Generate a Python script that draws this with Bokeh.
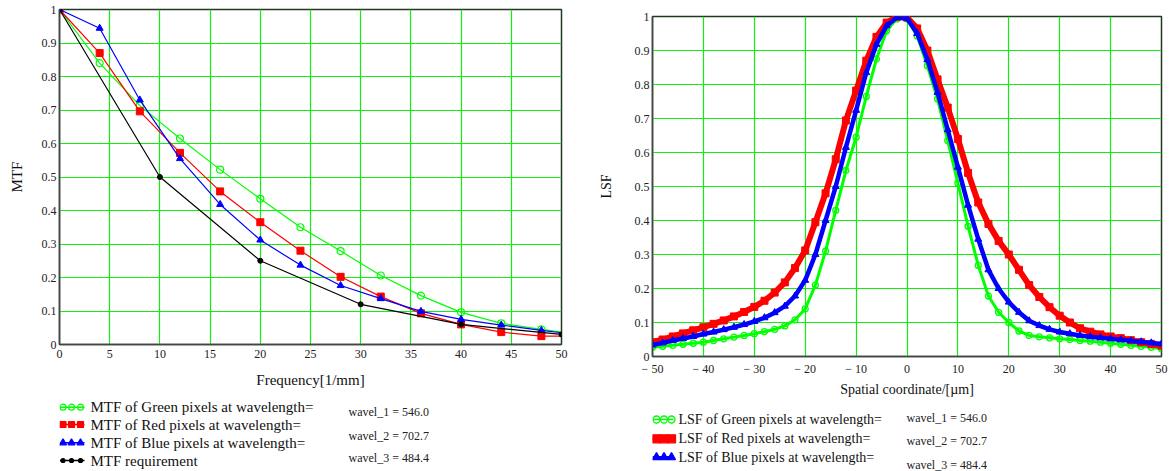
from bokeh.plotting import figure
from bokeh.layouts import row, column
from bokeh.models import Range1d, FixedTicker, NumeralTickFormatter
from bokeh.embed import file_html
from bokeh.resources import INLINE
from bokeh.core.properties import value

FONT = "Liberation Serif"
GREEN = "#00ff00"
RED = "#ff0000"
BLUE = "#0000ff"
BLACK = "#000000"
GRID = "#11ee11"

# ---------------- MTF data ----------------
freq = [0, 4, 8, 12, 16, 20, 24, 28, 32, 36, 40, 44, 48, 50]
mtf_green = [1.0, 0.840, 0.713, 0.615, 0.522, 0.435, 0.350, 0.279, 0.206, 0.146, 0.096, 0.063, 0.045, 0.037]
mtf_red = [1.0, 0.870, 0.696, 0.572, 0.457, 0.365, 0.280, 0.202, 0.143, 0.093, 0.060, 0.037, 0.025, 0.025]
mtf_blue = [1.0, 0.944, 0.730, 0.555, 0.418, 0.312, 0.237, 0.176, 0.137, 0.099, 0.075, 0.058, 0.042, 0.035]
req_freq = [0, 10, 20, 30, 40, 50]
mtf_req = [1.0, 0.50, 0.25, 0.12, 0.06, 0.03]

mtf_xticks = [0, 5, 10, 15, 20, 25, 30, 35, 40, 45, 50]
unit_ticks = [0, 0.1, 0.2, 0.3, 0.4, 0.5, 0.6, 0.7, 0.8, 0.9, 1.0]

# ---------------- LSF data ----------------
lsf_x = [-50, -48, -46, -44, -42, -40, -38, -36, -34, -32, -30, -28, -26, -24, -22, -20,
         -18, -16, -14, -12, -10, -8, -6, -4, -2, 0, 2, 4, 6, 8, 10, 12, 14, 16, 18, 20,
         22, 24, 26, 28, 30, 32, 34, 36, 38, 40, 42, 44, 46, 48, 50]
lsf_red = [0.042, 0.050, 0.059, 0.068, 0.077, 0.086, 0.096, 0.106, 0.118, 0.131, 0.146, 0.164,
           0.188, 0.218, 0.260, 0.312, 0.395, 0.480, 0.580, 0.694, 0.782, 0.870, 0.940, 0.982,
           0.999, 0.997, 0.965, 0.900, 0.815, 0.732, 0.640, 0.540, 0.453, 0.390, 0.340, 0.300,
           0.255, 0.210, 0.175, 0.145, 0.120, 0.100, 0.083, 0.073, 0.065, 0.059, 0.054, 0.048,
           0.042, 0.037, 0.032]
lsf_blue = [0.034, 0.040, 0.047, 0.053, 0.059, 0.066, 0.072, 0.079, 0.086, 0.094, 0.103, 0.114,
            0.129, 0.148, 0.178, 0.224, 0.300, 0.400, 0.500, 0.615, 0.724, 0.835, 0.918, 0.973,
            0.997, 0.995, 0.950, 0.873, 0.777, 0.667, 0.557, 0.445, 0.345, 0.255, 0.200, 0.160,
            0.130, 0.105, 0.091, 0.080, 0.072, 0.067, 0.062, 0.058, 0.055, 0.052, 0.049, 0.046,
            0.043, 0.040, 0.037]
lsf_green = [0.027, 0.030, 0.033, 0.036, 0.039, 0.042, 0.047, 0.052, 0.057, 0.062, 0.067, 0.073,
             0.080, 0.090, 0.108, 0.140, 0.210, 0.310, 0.430, 0.547, 0.645, 0.765, 0.875, 0.958,
             0.993, 0.993, 0.943, 0.855, 0.757, 0.635, 0.510, 0.383, 0.268, 0.178, 0.130, 0.100,
             0.075, 0.062, 0.058, 0.055, 0.052, 0.050, 0.047, 0.045, 0.042, 0.039, 0.036, 0.033,
             0.030, 0.027, 0.023]

lsf_xticks = [-50, -40, -30, -20, -10, 0, 10, 20, 30, 40, 50]
lsf_xlabels = ["\u2212 50", "\u2212 40", "\u2212 30", "\u2212 20", "\u2212 10", "0",
               "10", "20", "30", "40", "50"]

mtf_legend = ["MTF of Green pixels at wavelength=", "MTF of Red pixels at wavelength=",
              "MTF of Blue pixels at wavelength=", "MTF requirement"]
lsf_legend = ["LSF of Green pixels at wavelength=", "LSF of Red pixels at wavelength=",
              "LSF of Blue pixels at wavelength="]
wavel_text = ["wavel_1 = 546.0", "wavel_2 = 702.7", "wavel_3 = 484.4"]

MAIN_H = 400
LEG_H = 71
W1 = 594
W2 = 1171 - W1


def style_main(p, xticks, xstand, ystand, label_size):
    p.background_fill_color = "white"
    p.border_fill_color = "white"
    p.outline_line_color = "#1d3b1d"
    p.outline_line_width = 1.5
    for ax in (p.xaxis[0], p.yaxis[0]):
        ax.axis_line_color = "#444444"
        ax.axis_line_width = 1.5
        ax.major_tick_in = 0
        ax.major_tick_out = 0
        ax.minor_tick_in = 0
        ax.minor_tick_out = 0
        ax.major_label_text_font = FONT
        ax.major_label_text_font_size = "12px"
        ax.major_label_text_color = "#222222"
        ax.axis_label_text_font = FONT
        ax.axis_label_text_font_size = label_size
        ax.axis_label_text_font_style = "normal"
        ax.axis_label_text_color = "#111111"
    p.xaxis.ticker = FixedTicker(ticks=xticks)
    p.yaxis.ticker = FixedTicker(ticks=unit_ticks)
    p.yaxis.formatter = NumeralTickFormatter(format="0.[0]")
    p.xaxis.major_label_standoff = 5
    p.yaxis.major_label_standoff = 3
    p.xaxis.axis_label_standoff = xstand
    p.yaxis.axis_label_standoff = ystand
    p.xgrid.grid_line_color = GRID
    p.ygrid.grid_line_color = GRID
    p.xgrid.grid_line_width = 1.2
    p.ygrid.grid_line_width = 1.2


# ---------------- Left: MTF ----------------
p1 = figure(width=W1, height=MAIN_H, x_range=Range1d(0, 50), y_range=Range1d(0, 1),
            output_backend="svg", toolbar_location=None,
            min_border_left=59, min_border_right=W1 - 561, min_border_top=9,
            min_border_bottom=MAIN_H - 344,
            x_axis_label="Frequency[1/mm]", y_axis_label="MTF")
style_main(p1, mtf_xticks, 11, 14, "15px")

p1.line(freq, mtf_green, color=GREEN, line_width=1.2)
p1.scatter(freq[:-1], mtf_green[:-1], marker="circle", size=7, fill_color=None,
           line_color=GREEN, line_width=1.2)
p1.line(freq, mtf_red, color=RED, line_width=1.2)
p1.scatter(freq[:-1], mtf_red[:-1], marker="square", size=7, color=RED)
p1.line(freq, mtf_blue, color=BLUE, line_width=1.2)
p1.scatter(freq[:-1], mtf_blue[:-1], marker="triangle", size=7, color=BLUE)
p1.line(req_freq, mtf_req, color=BLACK, line_width=1.2)
p1.scatter(req_freq, mtf_req, marker="circle", size=5, color=BLACK)

# ---------------- Right: LSF ----------------
p2 = figure(width=W2, height=MAIN_H, x_range=Range1d(-50, 50), y_range=Range1d(0, 1),
            output_backend="svg", toolbar_location=None,
            min_border_left=652 - W1, min_border_right=10, min_border_top=16,
            min_border_bottom=MAIN_H - 356,
            x_axis_label="Spatial coordinate/[\u00b5m]", y_axis_label="LSF")
style_main(p2, lsf_xticks, 3, 18, "14px")
p2.xaxis.major_label_overrides = dict(zip(lsf_xticks, lsf_xlabels))

p2.line(lsf_x, lsf_green, color=GREEN, line_width=3)
p2.scatter(lsf_x, lsf_green, marker="circle", size=6, fill_color=None,
           line_color=GREEN, line_width=1.3)
p2.line(lsf_x, lsf_red, color=RED, line_width=6)
p2.scatter(lsf_x, lsf_red, marker="square", size=7, color=RED)
p2.line(lsf_x, lsf_blue, color=BLUE, line_width=4.5)
p2.scatter(lsf_x, lsf_blue, marker="triangle", size=7, color=BLUE)


# ---------------- Legends ----------------
# Bokeh aligns the frames of stacked plots, so each legend figure gets the same side
# borders as the plot above it; its ranges are set so that data units equal page pixels
# (x measured from the page's left edge, y measured upward from the page's bottom edge).
def legend_fig(width, left, right, x0):
    q = figure(width=width, height=LEG_H,
               x_range=Range1d(x0 + left, x0 + width - right), y_range=Range1d(0, LEG_H),
               output_backend="svg", toolbar_location=None,
               min_border_left=left, min_border_right=right, min_border_top=0, min_border_bottom=0,
               x_axis_location=None, y_axis_location=None)
    q.grid.visible = False
    q.outline_line_color = None
    q.background_fill_color = "white"
    q.border_fill_color = "white"
    return q


def yy(pix):
    return 471 - pix


leg1 = legend_fig(W1, 59, W1 - 561, 0)
rows1 = [yy(406.7), yy(424.0), yy(442.3), yy(460.0)]
cols1 = [GREEN, RED, BLUE, BLACK]
marks1 = [("circle", 6, None), ("square", 6, RED), ("triangle", 7, BLUE), ("circle", 4, BLACK)]
for y0, c, (mk, sz, fc) in zip(rows1, cols1, marks1):
    leg1.line([59.5, 84], [y0, y0], color=c, line_width=1.5)
    leg1.scatter([62.5, 71, 80], [y0, y0, y0], marker=mk, size=sz, line_color=c,
                 fill_color=fc, line_width=1.2)
leg1.text([90] * 4, rows1, text=mtf_legend, text_font=value(FONT), text_font_size="15px",
          text_baseline="middle", text_align="left", text_color="#111111")
leg1.text([348] * 3, [yy(411.7), yy(435.0), yy(457.3)], text=wavel_text, text_font=value(FONT),
          text_font_size="12px", text_baseline="middle", text_align="left", text_color="#222222")

leg2 = legend_fig(W2, 652 - W1, 10, W1)
rows2 = [yy(419.0), yy(438.3), yy(456.7)]
cols2 = [GREEN, RED, BLUE]
marks2 = [("circle", 7, None), ("square", 8, RED), ("triangle", 8, BLUE)]
for y0, c, (mk, sz, fc) in zip(rows2, cols2, marks2):
    leg2.line([652, 673], [y0, y0], color=c, line_width=2.5 if fc else 1.5)
    leg2.scatter([656, 663.5, 671], [y0, y0, y0], marker=mk, size=sz, line_color=c,
                 fill_color=fc, line_width=1.3)
leg2.text([678] * 3, rows2, text=lsf_legend, text_font=value(FONT), text_font_size="14px",
          text_baseline="middle", text_align="left", text_color="#111111")
leg2.text([906] * 3, [yy(417.7), yy(440.7), yy(464.0)], text=wavel_text, text_font=value(FONT),
          text_font_size="12px", text_baseline="middle", text_align="left", text_color="#222222")

layout = row(column(p1, leg1), column(p2, leg2))
open("out.html", "w").write(file_html(layout, INLINE))
